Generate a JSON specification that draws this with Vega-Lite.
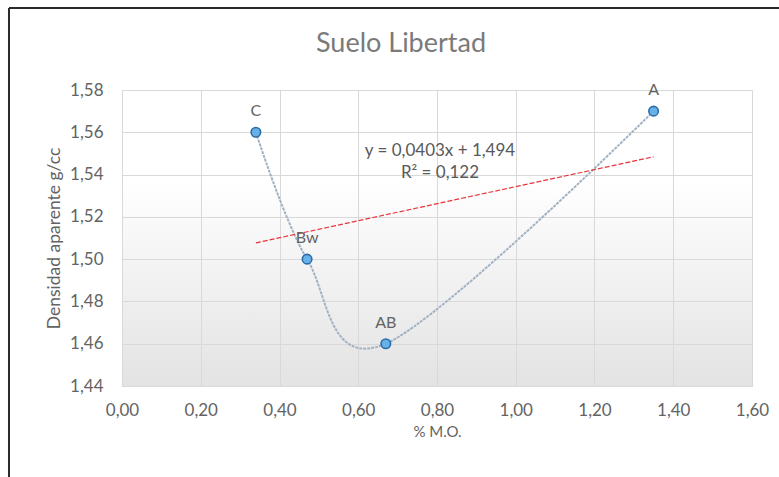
{
  "$schema": "https://vega.github.io/schema/vega-lite/v6.json",
  "width": 630,
  "height": 296,
  "autosize": {"type": "none"},
  "padding": {"left": 122, "top": 90, "right": 27, "bottom": 91},
  "background": "white",
  "config": {
    "locale": {"number": {"decimal": ",", "thousands": ".", "grouping": [3], "currency": ["", " €"]}},
    "font": "Lato",
    "view": {"stroke": "#d9d9d9", "strokeWidth": 1},
    "axis": {
      "grid": true,
      "gridColor": "#d9d9d9",
      "gridWidth": 1,
      "domain": false,
      "ticks": false,
      "labelFlush": false,
      "labelOverlap": false,
      "labelColor": "#636363",
      "labelFontSize": 17,
      "titleColor": "#636363",
      "titleFontSize": 15,
      "titleFontWeight": "normal"
    }
  },
  "view": {
    "fill": {
      "gradient": "linear",
      "x1": 0, "y1": 0, "x2": 0, "y2": 1,
      "stops": [
        {"offset": 0, "color": "#ffffff"},
        {"offset": 0.3, "color": "#ffffff"},
        {"offset": 1, "color": "#e3e3e3"}
      ]
    }
  },
  "title": {
    "text": "Suelo Libertad",
    "fontSize": 27,
    "fontWeight": "normal",
    "color": "#7a7a7a",
    "frame": "group",
    "anchor": "middle",
    "baseline": "alphabetic",
    "dx": -36,
    "offset": -72
  },
  "data": {
    "values": [
      {"horizonte": "C", "mo": 0.34, "densidad": 1.56},
      {"horizonte": "Bw", "mo": 0.47, "densidad": 1.50},
      {"horizonte": "AB", "mo": 0.67, "densidad": 1.46},
      {"horizonte": "A", "mo": 1.35, "densidad": 1.57}
    ]
  },
  "layer": [
    {
      "mark": {"type": "line", "interpolate": "cardinal", "color": "#a3b2c2", "strokeWidth": 2, "strokeDash": [3, 1]},
      "encoding": {
        "x": {
          "field": "mo", "type": "quantitative",
          "scale": {"domain": [0, 1.6], "nice": false, "zero": false},
          "axis": {
            "values": [0, 0.2, 0.4, 0.6, 0.8, 1.0, 1.2, 1.4, 1.6],
            "format": ".2f",
            "title": "% M.O.",
            "labelPadding": 16,
            "titlePadding": 6
          }
        },
        "y": {
          "field": "densidad", "type": "quantitative",
          "scale": {"domain": [1.44, 1.58], "nice": false, "zero": false},
          "axis": {
            "values": [1.44, 1.46, 1.48, 1.5, 1.52, 1.54, 1.56, 1.58],
            "format": ".2f",
            "title": "Densidad aparente g/cc",
            "titleFontSize": 17.5,
            "labelPadding": 19,
            "titlePadding": 6
          }
        }
      }
    },
    {
      "transform": [{"regression": "densidad", "on": "mo"}],
      "mark": {"type": "line", "color": "#e8343c", "strokeWidth": 1.2, "strokeDash": [5, 2]},
      "encoding": {
        "x": {"field": "mo", "type": "quantitative", "scale": {"domain": [0, 1.6], "nice": false, "zero": false}},
        "y": {"field": "densidad", "type": "quantitative", "scale": {"domain": [1.44, 1.58], "nice": false, "zero": false}}
      }
    },
    {
      "mark": {"type": "point", "shape": "circle", "filled": true, "fill": "#66b2e8", "stroke": "#2d6ca5", "strokeWidth": 1.6, "size": 90, "opacity": 1},
      "encoding": {
        "x": {"field": "mo", "type": "quantitative", "scale": {"domain": [0, 1.6], "nice": false, "zero": false}},
        "y": {"field": "densidad", "type": "quantitative", "scale": {"domain": [1.44, 1.58], "nice": false, "zero": false}}
      }
    },
    {
      "mark": {"type": "text", "dy": -21, "color": "#636363", "fontSize": 16},
      "encoding": {
        "x": {"field": "mo", "type": "quantitative", "scale": {"domain": [0, 1.6], "nice": false, "zero": false}},
        "y": {"field": "densidad", "type": "quantitative", "scale": {"domain": [1.44, 1.58], "nice": false, "zero": false}},
        "text": {"field": "horizonte"}
      }
    },
    {
      "data": {"values": [{"ecuacion": "y = 0,0403x + 1,494", "r2": "R² = 0,122"}]},
      "mark": {"type": "text", "color": "#595959", "fontSize": 17, "baseline": "top", "lineHeight": 22, "align": "center"},
      "encoding": {
        "x": {"datum": 0.8076, "type": "quantitative", "scale": {"domain": [0, 1.6], "nice": false, "zero": false}},
        "y": {"datum": 1.5549, "type": "quantitative", "scale": {"domain": [1.44, 1.58], "nice": false, "zero": false}},
        "text": {"value": ["y = 0,0403x + 1,494", "R² = 0,122"]}
      }
    },
    {
      "data": {"values": [{"borde": "superior"}]},
      "mark": {"type": "rule", "color": "#2b2b2b", "strokeWidth": 2},
      "encoding": {
        "x": {"datum": -0.287, "type": "quantitative", "scale": {"domain": [0, 1.6], "nice": false, "zero": false}},
        "x2": {"datum": 1.68},
        "y": {"datum": 1.6188, "type": "quantitative", "scale": {"domain": [1.44, 1.58], "nice": false, "zero": false}}
      }
    },
    {
      "data": {"values": [{"borde": "izquierdo"}]},
      "mark": {"type": "rule", "color": "#2b2b2b", "strokeWidth": 2},
      "encoding": {
        "x": {"datum": -0.287, "type": "quantitative", "scale": {"domain": [0, 1.6], "nice": false, "zero": false}},
        "y": {"datum": 1.6188, "type": "quantitative", "scale": {"domain": [1.44, 1.58], "nice": false, "zero": false}},
        "y2": {"datum": 1.397}
      }
    }
  ]
}
